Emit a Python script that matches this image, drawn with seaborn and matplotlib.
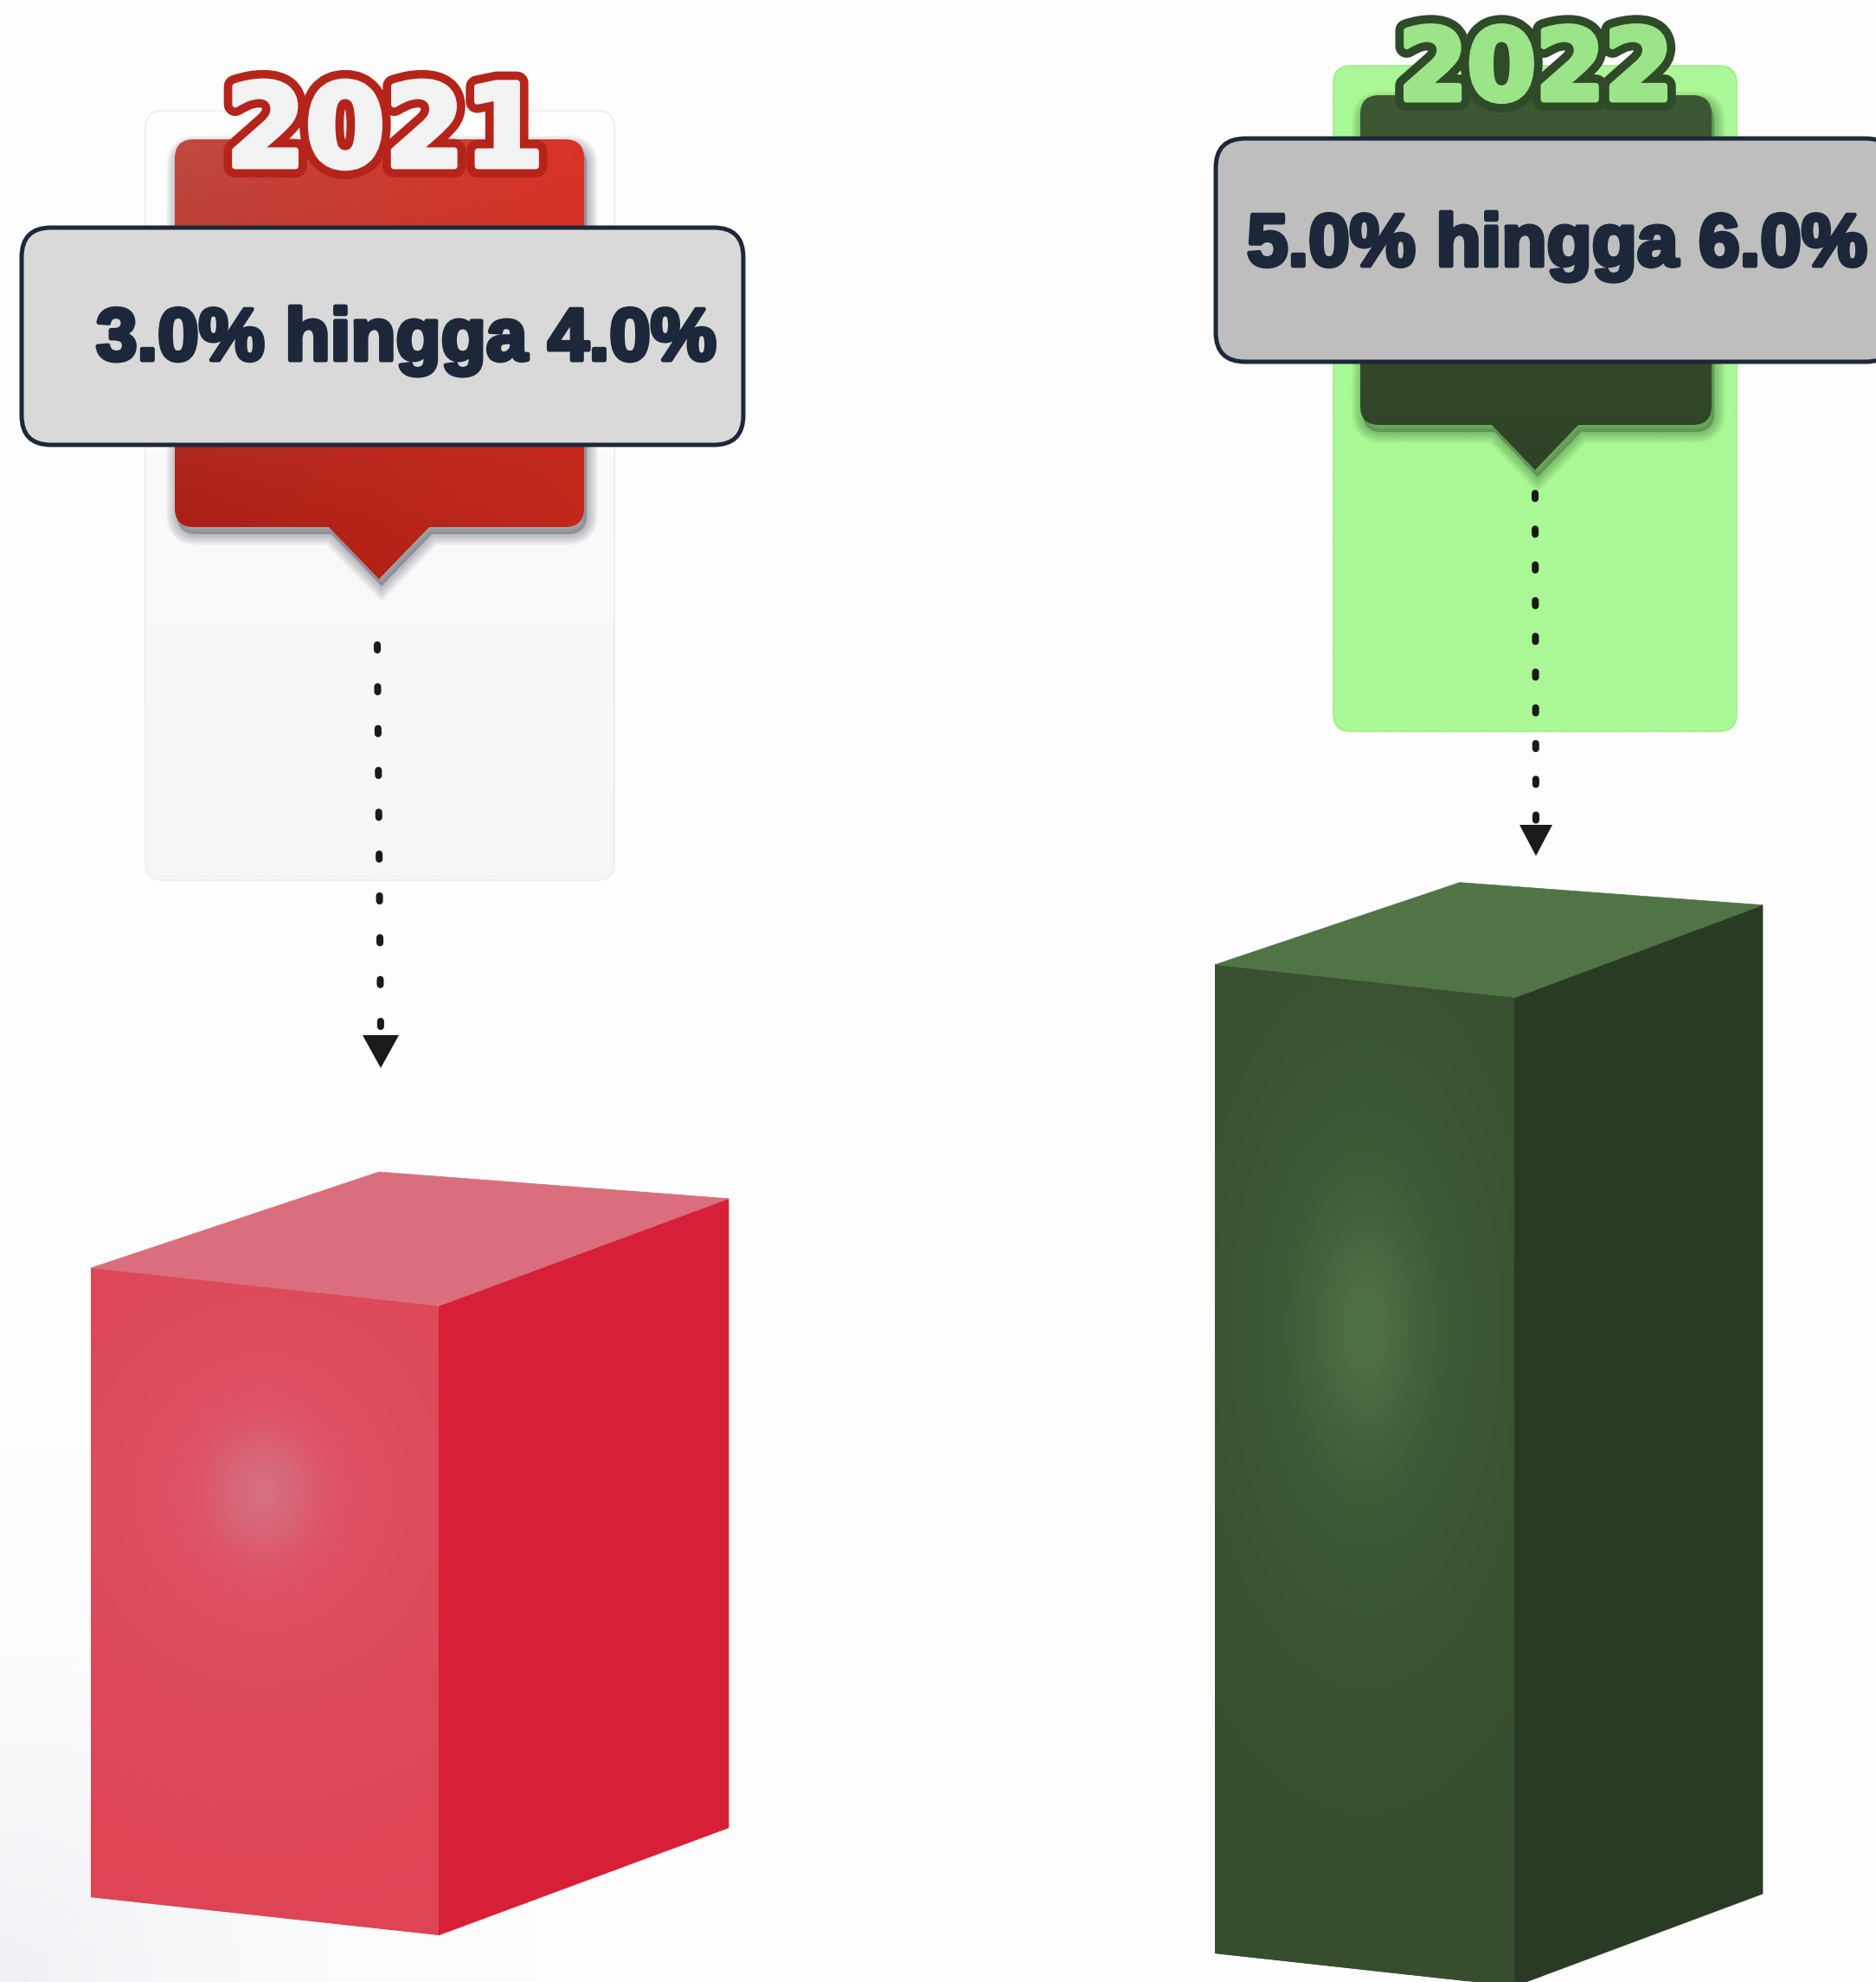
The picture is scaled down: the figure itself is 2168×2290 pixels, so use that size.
#!/usr/bin/env python3
import matplotlib

matplotlib.use("Agg")
import matplotlib.pyplot as plt
import matplotlib.patheffects as pe
import numpy as np
import seaborn as sns
from matplotlib.colors import to_rgb
from matplotlib.patches import FancyBboxPatch, PathPatch, Polygon
from matplotlib.path import Path
from matplotlib.transforms import Affine2D

W, H = 2168, 2290

years = ["2021", "2022"]
range_low = [3.0, 5.0]
range_high = [4.0, 6.0]
midpoints = [(a + b) / 2 for a, b in zip(range_low, range_high)]

PX_PER_UNIT = 207.7
STYLE = {
    "2021": dict(
        bar_x=105, bar_w=402, base_y=2192, slope=0.109, side=(335, -124), back=(333, -111),
        front="#DE4454", front_mid="#DE5162", front_hi="#D56F80", top="#DA6E7E", sidec="#D71F38",
        glow=(304, 1724), glow_outer=(280, 300), glow_inner=(60, 70),
        card=(168, 128, 710, 1017), card_top="#FFFFFF", card_bot="#F6F6F6", card_edge="#EDEDED",
        badge=(202, 161, 675, 609), tip=(438, 669), tip_half=58, shadow="#4A4A5A",
        badge_cols=("#C04A40", "#D93327", "#A81A10", "#BE261A"),
        box=(25, 263, 859, 514), box_fill="#D9D9D9", text_x=111, text_y=416,
        year_xy=(445, 192), year_size=95, year_fill="#F2F2F2", year_edge="#B5241A",
        arrow=((436, 745), (440, 1196)), dash_gap=48, head=(440, 1234, 21, 1196),
    ),
    "2022": dict(
        bar_x=1404, bar_w=346, base_y=2257, slope=0.110, side=(287, -107), back=(283, -95),
        front="#364E2E", front_mid="#3F5C37", front_hi="#4F7245", top="#507446", sidec="#293B23",
        glow=(1578, 1534), glow_outer=(190, 400), glow_inner=(60, 130),
        card=(1541, 76, 2007, 845), card_top="#ABF897", card_bot="#ABF897", card_edge="#A2EC8F",
        badge=(1572, 110, 1978, 491), tip=(1774, 543), tip_half=50, shadow="#2E5A28",
        badge_cols=("#3D5834", "#3D5834", "#2F4227", "#2F4227"),
        box=(1405, 160, 2190, 418), box_fill="#BEBEBE", text_x=1441, text_y=307,
        year_xy=(1775, 115), year_size=82, year_fill="#9BE488", year_edge="#2E4A28",
        arrow=((1774, 570), (1775, 950)), dash_gap=41, head=(1775, 989, 19, 953),
    ),
}
TEXT_COLOR = "#1C2839"


def rounded_badge(x0, y0, x1, y1, r, tip, half):
    c3 = Path.CURVE3
    verts = [(x0 + r, y0), (x1 - r, y0), (x1, y0), (x1, y0 + r), (x1, y1 - r), (x1, y1), (x1 - r, y1),
             (tip[0] + half, y1), tip, (tip[0] - half, y1), (x0 + r, y1), (x0, y1), (x0, y1 - r),
             (x0, y0 + r), (x0, y0), (x0 + r, y0), (x0 + r, y0)]
    codes = [Path.MOVETO, Path.LINETO, c3, c3, Path.LINETO, c3, c3, Path.LINETO, Path.LINETO,
             Path.LINETO, Path.LINETO, c3, c3, Path.LINETO, c3, c3, Path.CLOSEPOLY]
    return Path(verts, codes)


def gradient_image(ax, extent, corners, clip, zorder):
    tl, tr, bl, br = [np.array(to_rgb(c)) for c in corners]
    u, v = np.meshgrid(np.linspace(0, 1, 64), np.linspace(0, 1, 64))
    u, v = u[..., None], v[..., None]
    img = (1 - v) * ((1 - u) * tl + u * tr) + v * ((1 - u) * bl + u * br)
    im = ax.imshow(img, extent=extent, origin="upper", aspect="auto", zorder=zorder, interpolation="bilinear")
    im.set_clip_path(clip)
    return im


def draw_face_glow(ax, s, bar):
    xs, ys = np.meshgrid(np.arange(s["bar_x"] - 5, s["bar_x"] + s["bar_w"] + 5, 2),
                         np.arange(s["base_y"] - 1200, min(s["base_y"] + 60, H), 2))
    gx, gy = s["glow"]
    outer = np.exp(-(((xs - gx) / s["glow_outer"][0]) ** 2 + ((ys - gy) / s["glow_outer"][1]) ** 2))
    inner = np.exp(-(((xs - gx) / s["glow_inner"][0]) ** 2 + ((ys - gy) / s["glow_inner"][1]) ** 2))
    base, mid, hi = [np.array(to_rgb(s[k])) for k in ("front", "front_mid", "front_hi")]
    img = base + (mid - base) * outer[..., None] + (hi - mid) * inner[..., None]
    im = ax.imshow(np.clip(img, 0, 1), extent=(xs.min(), xs.max(), ys.max(), ys.min()), origin="upper",
                   aspect="auto", zorder=2, interpolation="bilinear")
    # a Rectangle would be reduced to its bbox here, so pass the skewed path itself
    im.set_clip_path(bar.get_path(), bar.get_transform())


def main() -> None:
    sns.set_theme(style="white")
    plt.rcParams["font.family"] = ["Liberation Sans", "DejaVu Sans"]
    fig = plt.figure(figsize=(W / 100, H / 100), dpi=100)

    # page background, a little greyer towards the lower left corner
    ax_bg = fig.add_axes([0, 0, 1, 1], zorder=0)
    ax_bg.set_axis_off()
    xx, yy = np.meshgrid(np.linspace(0, W, 200), np.linspace(0, H, 200))
    fade = np.clip(1 - np.hypot(xx, yy - H) / 620, 0, 1)[..., None] ** 2
    bg = np.array(to_rgb("#FDFDFE")) + (np.array(to_rgb("#EEF0F3")) - np.array(to_rgb("#FDFDFE"))) * fade
    ax_bg.imshow(bg, extent=(0, W, H, 0), aspect="auto")

    # one axes per year so each box can sit on its own baseline
    bars = {}
    for year, mid in zip(years, midpoints):
        s = STYLE[year]
        height_px = 6.5 * PX_PER_UNIT
        ax_b = fig.add_axes([s["bar_x"] / W, (H - s["base_y"]) / H, s["bar_w"] / W, height_px / H], zorder=1)
        sns.barplot(x=[year], y=[mid], color=s["front"], saturation=1, width=1.0, errorbar=None, ax=ax_b)
        ax_b.set_xlim(-0.5, 0.5)
        ax_b.set_ylim(0, 6.5)
        ax_b.set_axis_off()
        ax_b.patch.set_visible(False)
        bar = ax_b.patches[0]
        bar.set_linewidth(0)
        bar.set_clip_on(False)
        skew = Affine2D(np.array([[1, 0, 0], [-s["slope"], 1, s["slope"] * s["bar_x"]], [0, 0, 1]], dtype=float))
        bar.set_transform(ax_b.transData + skew)
        bars[year] = bar

    ax = fig.add_axes([0, 0, 1, 1], zorder=2)
    ax.set_axis_off()
    ax.patch.set_visible(False)

    for year, low, high in zip(years, range_low, range_high):
        s = STYLE[year]

        # pale card
        x0, y0, x1, y1 = s["card"]
        card = FancyBboxPatch((x0 + 18, y0 + 18), x1 - x0 - 36, y1 - y0 - 36, boxstyle="round,pad=18,rounding_size=20",
                              fc="none", ec=s["card_edge"], lw=1.2, zorder=1.1)
        ax.add_patch(card)
        gradient_image(ax, (x0, x1, y1, y0), (s["card_top"], s["card_top"], s["card_bot"], s["card_bot"]), card, 1)

        # badge with pointer and soft shadow
        bx0, by0, bx1, by1 = s["badge"]
        path = rounded_badge(bx0, by0, bx1, by1, 22, s["tip"], s["tip_half"])
        shadow = Path(path.vertices + np.array([3, 8]), path.codes)
        for lw in range(2, 28, 2):
            ax.add_patch(PathPatch(shadow, fc=s["shadow"], ec=s["shadow"], lw=lw * 0.72, alpha=0.03, zorder=1.5))
        badge = PathPatch(path, fc="none", ec="none", zorder=2)
        ax.add_patch(badge)
        gradient_image(ax, (bx0, bx1, s["tip"][1], by0), s["badge_cols"], badge, 2)

        # range label box
        x0, y0, x1, y1 = s["box"]
        ax.add_patch(FancyBboxPatch((x0 + 34, y0 + 34), x1 - x0 - 68, y1 - y0 - 68, boxstyle="round,pad=34,rounding_size=34",
                                    fc=s["box_fill"], ec=TEXT_COLOR, lw=3.6, zorder=3))
        ax.text(s["text_x"], s["text_y"], f"{low:.1f}% hingga {high:.1f}%", fontsize=61.5, fontweight="bold",
                color=TEXT_COLOR, ha="left", va="baseline", zorder=4,
                path_effects=[pe.withStroke(linewidth=3.6, foreground=TEXT_COLOR)])

        # year title with heavy outline
        ax.text(*s["year_xy"], year, fontsize=s["year_size"], fontweight="bold", color=s["year_fill"],
                family=["DejaVu Sans"], ha="center", va="baseline", zorder=5,
                path_effects=[pe.withStroke(linewidth=19, foreground=s["year_edge"]),
                              pe.withStroke(linewidth=5, foreground=s["year_fill"])])

        # dotted leader and arrow head
        (ax0, ay0), (ax1, ay1) = s["arrow"]
        ax.plot([ax0, ax1], [ay0, ay1], color="#1A1A1A", lw=5.8, dash_capstyle="round",
                linestyle=(0, (6 / 8, (s["dash_gap"] - 6) / 8)), zorder=6)
        tx, ty, half, top = s["head"]
        ax.add_patch(Polygon([(tx - half, top), (tx + half, top), (tx, ty)], fc="#1A1A1A", ec="none", zorder=6))

        # box faces, worked out from the seaborn bar
        bar = bars[year]
        disp = bar.get_transform().transform([(0, 0), (1, 0), (1, 1), (0, 1)])
        corners = np.column_stack([disp[:, 0], H - disp[:, 1]])
        bl, br, tr, tl = corners
        side = np.array(s["side"])
        back = np.array(s["back"])
        ax.add_patch(Polygon([br, tr, tr + side, br + side], fc=s["sidec"], ec=s["sidec"], lw=0.5, zorder=2))
        ax.add_patch(Polygon([tl, tr, tr + side, tl + back], fc=s["top"], ec=s["top"], lw=0.5, zorder=2))
        draw_face_glow(ax, s, bar)

    ax.set_xlim(0, W)
    ax.set_ylim(H, 0)
    fig.savefig("out.png", dpi=100)
    plt.close(fig)


if __name__ == "__main__":
    main()
